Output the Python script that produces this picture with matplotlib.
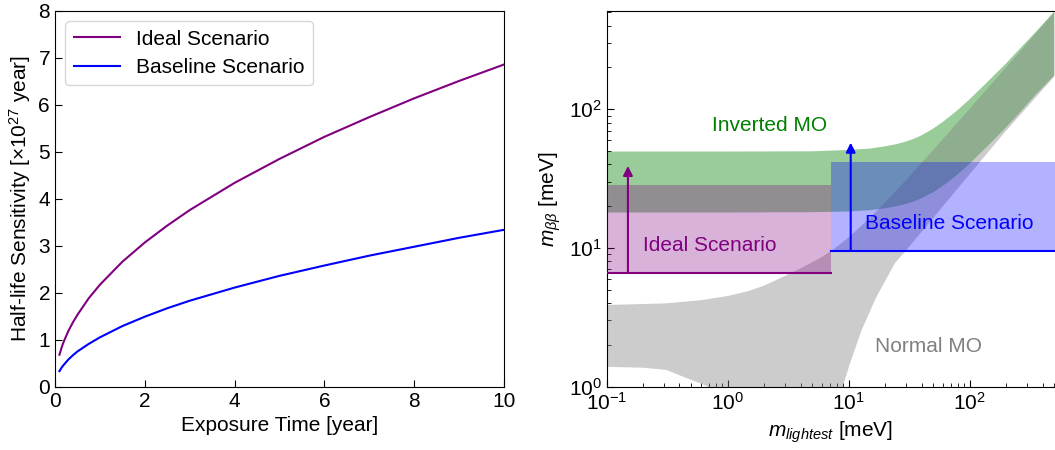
#!/usr/bin/env python3
import numpy as np
import matplotlib
matplotlib.use("Agg")
import matplotlib.pyplot as plt

plt.rcParams["font.family"] = ["Liberation Sans", "DejaVu Sans"]
plt.rcParams["mathtext.fontset"] = "custom"
plt.rcParams["mathtext.rm"] = "Liberation Sans"
plt.rcParams["mathtext.it"] = "Liberation Sans:italic"
plt.rcParams["mathtext.default"] = "regular"
plt.rcParams["font.size"] = 15

# Half-life sensitivity vs exposure time
exposure = [0.1, 0.15, 0.2, 0.3, 0.4, 0.5, 0.75, 1, 1.5, 2, 2.5, 3, 4, 5, 6, 7, 8, 9, 10]
ideal_sens = [0.68, 0.84, 0.97, 1.19, 1.37, 1.53, 1.88, 2.17, 2.66, 3.07, 3.43, 3.76,
              4.34, 4.85, 5.32, 5.74, 6.14, 6.51, 6.86]
baseline_sens = [0.33, 0.41, 0.47, 0.58, 0.67, 0.75, 0.91, 1.05, 1.29, 1.49, 1.67, 1.83,
                 2.11, 2.36, 2.58, 2.79, 2.98, 3.17, 3.34]

# Inverted ordering band edges (meV)
io_m = [0.1, 1, 5, 10, 15, 20, 25, 30, 35, 40, 50, 60, 70, 80, 100, 140, 200, 260, 350, 500]
io_upper = [49.5, 49.5, 49.7, 50.8, 52.0, 54.0, 56.0, 58.6, 61.5, 64.8, 72.5, 81, 90,
            99, 118, 157, 214, 273, 359, 505]
io_lower = [18.0, 18.0, 18.1, 18.3, 18.7, 19.3, 20.0, 20.8, 21.7, 22.8, 25.2, 28, 31,
            34, 40.5, 54, 74, 95, 127, 175]

# Normal ordering band edges (meV)
no_up_m = [0.1, 0.3, 0.6, 1, 1.5, 2, 3, 4.5, 6, 7.4, 10, 15, 20, 30, 50, 100, 200, 500]
no_upper = [3.88, 3.98, 4.2, 4.5, 4.9, 5.35, 6.3, 7.5, 8.6, 9.68, 11.9, 16.5, 21.3,
            31, 50.8, 100.6, 200, 500]
no_lo_m = [0.1, 0.2, 0.313, 0.428, 0.59, 0.687, 0.8, 1.5, 6, 8.5, 9.02, 10.25, 12.8,
           17, 24.1, 29.2, 50, 100, 200, 300, 500]
no_lower = [1.39, 1.37, 1.32, 1.18, 1.06, 1.0, 0.9, 0.3, 0.3, 0.8, 1.03, 1.47, 2.56,
            4.46, 7.76, 9.4, 16.5, 34, 70, 104, 172]

# Experiment reach: [m_min, m_max, m_bb_min, m_bb_max, arrow_x, arrow_top]
ideal_box = [0.1, 7.1, 6.6, 28.5, 0.15, 39]
baseline_box = [7.1, 600, 9.56, 41.5, 10.4, 57.4]

fig = plt.figure(figsize=(10.55, 4.5), dpi=100)

# Left: sensitivity curves
ax1 = fig.add_axes([0.0521, 0.1407, 0.4256, 0.8349])
ax1.plot(exposure, ideal_sens, color="purple", lw=1.5, label="Ideal Scenario")
ax1.plot(exposure, baseline_sens, color="blue", lw=1.5, label="Baseline Scenario")
ax1.set_xlim(0, 10)
ax1.set_ylim(0, 8)
ax1.set_xlabel("Exposure Time [year]")
ax1.set_ylabel(r"Half-life Sensitivity [$\times10^{27}$ year]")
ax1.tick_params(direction="in", length=5)
ax1.legend(loc="upper left", handlelength=2.2, borderpad=0.4, labelspacing=0.45,
           handletextpad=0.8)

# Right: effective Majorana mass vs lightest mass
ax2 = fig.add_axes([0.575, 0.1407, 0.425, 0.8349])
ax2.set_xscale("log")
ax2.set_yscale("log")
ax2.fill(io_m + io_m[::-1], io_upper + io_lower[::-1], color="green", alpha=0.4,
         lw=0, zorder=1)
ax2.fill(no_up_m + no_lo_m[::-1], no_upper + no_lower[::-1], color="gray", alpha=0.4,
         lw=0, zorder=2)

for box, col in [(ideal_box, "purple"), (baseline_box, "blue")]:
    x0, x1, y0, y1, xa, ya = box
    ax2.fill([x0, x1, x1, x0], [y0, y0, y1, y1], color=col, alpha=0.3, lw=0, zorder=3)
    ax2.plot([x0, x1], [y0, y0], color=col, lw=1.5, zorder=4)
    ax2.annotate("", xy=(xa, ya), xytext=(xa, y0),
                 arrowprops=dict(arrowstyle="-|>", color=col, lw=1.5,
                                 mutation_scale=14, shrinkA=0, shrinkB=0),
                 zorder=4)

ax2.text(2.24, 76, "Inverted MO", color="green", ha="center", va="center")
ax2.text(0.71, 10.4, "Ideal Scenario", color="purple", ha="center", va="center")
ax2.text(68, 15.1, "Baseline Scenario", color="blue", ha="center", va="center")
ax2.text(45.8, 1.94, "Normal MO", color="gray", ha="center", va="center")

ax2.set_xlim(0.1, 507)
ax2.set_ylim(1, 510)
ax2.set_xlabel(r"$\mathit{m_{lightest}}$ [meV]")
ax2.set_ylabel(r"$\mathit{m_{\beta\beta}}$ [meV]")
ax2.tick_params(which="major", direction="in", length=5)
ax2.tick_params(which="minor", direction="in", length=3)
ax2.spines["right"].set_visible(False)

fig.savefig("out.png", dpi=100)
